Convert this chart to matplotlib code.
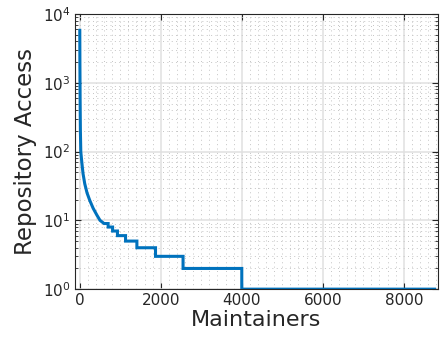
import numpy as np
import matplotlib.pyplot as plt
from matplotlib.ticker import MultipleLocator, LogLocator, NullFormatter

# head of the curve
head_x = [0, 3, 8, 15, 25, 50, 80, 123, 180, 247, 330, 420, 500, 600]
head_y = [5800, 2000, 600, 200, 100, 70, 48, 34, 25, 19.5, 15, 12, 10, 9]

# step part: value held from step_start until the next start
step_start = [600, 700, 810, 930, 1130, 1410, 1870, 2550, 4000]
step_val = [9, 8, 7, 6, 5, 4, 3, 2, 1]
x_end = 8760

xs = list(head_x)
ys = list(head_y)
for i, s in enumerate(step_start):
    e = step_start[i + 1] if i + 1 < len(step_start) else x_end
    xs += [s, e]
    ys += [step_val[i], step_val[i]]

dark = '#262626'
fig = plt.figure(figsize=(4.4, 3.43), dpi=100)
ax = fig.add_axes([0.170, 0.157, 0.825, 0.802])

ax.plot(xs, ys, color='#0072BD', lw=2.2, solid_joinstyle='miter')
ax.set_yscale('log')
ax.set_xlim(-123, 8840)
ax.set_ylim(1, 1e4)

ax.xaxis.set_major_locator(MultipleLocator(2000))
ax.xaxis.set_minor_locator(MultipleLocator(200))
ax.yaxis.set_major_locator(LogLocator(base=10, numticks=10))
ax.yaxis.set_minor_locator(LogLocator(base=10, subs=np.arange(2, 10), numticks=10))
ax.yaxis.set_minor_formatter(NullFormatter())

ax.grid(which='major', color='#e0e0e0', lw=1.1, ls='-')
ax.grid(which='minor', color='#c4c4c4', lw=0.7, ls=(0, (1, 3.5)))
ax.set_axisbelow(True)

ax.tick_params(which='both', direction='in', top=True, right=True, colors=dark,
               labelsize=11, pad=3)
ax.tick_params(which='major', length=4, width=0.8)
ax.tick_params(which='minor', length=2.5, width=0.6)
ax.tick_params(axis='x', which='minor', length=0)
for sp in ax.spines.values():
    sp.set_color(dark)
    sp.set_linewidth(0.8)

ax.set_xlabel('Maintainers', fontsize=16, color=dark, labelpad=1)
ax.set_ylabel('Repository Access', fontsize=16.5, color=dark, labelpad=4)

fig.savefig('out.png', dpi=100)
